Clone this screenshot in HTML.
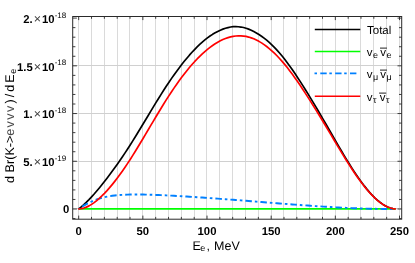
<!DOCTYPE html>
<html><head><meta charset="utf-8"><style>
html,body{margin:0;padding:0;background:#fff;}
svg{display:block;font-family:"Liberation Sans",sans-serif;text-rendering:geometricPrecision;}
.tb{font-size:11.3px;font-weight:bold;fill:#000;}
.tr{font-weight:normal;font-size:12.5px;fill:#3c3c3c;}
.sup{font-weight:normal;font-size:8px;}
.lg{font-size:11.5px;fill:#000;}
.ax{font-size:12.5px;fill:#000;}
.ay{font-size:12.6px;fill:#000;}
.sub{font-size:9px;}
</style></head><body>
<svg width="415" height="263" viewBox="0 0 415 263">
<defs><filter id="b" x="-5%" y="-5%" width="110%" height="110%"><feGaussianBlur stdDeviation="0.4"/></filter></defs>
<rect width="415" height="263" fill="#fff"/>
<g stroke="#d0d0d0" stroke-width="1" fill="none">
<line x1="78.50" y1="16.5" x2="78.50" y2="219.2" stroke="#dadada"/><line x1="91.50" y1="16.5" x2="91.50" y2="219.2" stroke="#dadada"/><line x1="104.50" y1="16.5" x2="104.50" y2="219.2" stroke="#dadada"/><line x1="117.50" y1="16.5" x2="117.50" y2="219.2" stroke="#dadada"/><line x1="129.50" y1="16.5" x2="129.50" y2="219.2" stroke="#dadada"/><line x1="142.50" y1="16.5" x2="142.50" y2="219.2" stroke="#dadada"/><line x1="155.50" y1="16.5" x2="155.50" y2="219.2" stroke="#dadada"/><line x1="168.50" y1="16.5" x2="168.50" y2="219.2" stroke="#dadada"/><line x1="181.50" y1="16.5" x2="181.50" y2="219.2" stroke="#dadada"/><line x1="194.50" y1="16.5" x2="194.50" y2="219.2" stroke="#dadada"/><line x1="206.50" y1="16.5" x2="206.50" y2="219.2" stroke="#dadada"/><line x1="219.50" y1="16.5" x2="219.50" y2="219.2" stroke="#dadada"/><line x1="232.50" y1="16.5" x2="232.50" y2="219.2" stroke="#dadada"/><line x1="245.50" y1="16.5" x2="245.50" y2="219.2" stroke="#dadada"/><line x1="258.50" y1="16.5" x2="258.50" y2="219.2" stroke="#dadada"/><line x1="271.50" y1="16.5" x2="271.50" y2="219.2" stroke="#dadada"/><line x1="283.50" y1="16.5" x2="283.50" y2="219.2" stroke="#dadada"/><line x1="296.50" y1="16.5" x2="296.50" y2="219.2" stroke="#dadada"/><line x1="309.50" y1="16.5" x2="309.50" y2="219.2" stroke="#dadada"/><line x1="322.50" y1="16.5" x2="322.50" y2="219.2" stroke="#dadada"/><line x1="335.50" y1="16.5" x2="335.50" y2="219.2" stroke="#dadada"/><line x1="348.50" y1="16.5" x2="348.50" y2="219.2" stroke="#dadada"/><line x1="360.50" y1="16.5" x2="360.50" y2="219.2" stroke="#dadada"/><line x1="373.50" y1="16.5" x2="373.50" y2="219.2" stroke="#dadada"/><line x1="386.50" y1="16.5" x2="386.50" y2="219.2" stroke="#dadada"/><line x1="399.50" y1="16.5" x2="399.50" y2="219.2" stroke="#dadada"/><line x1="72.7" y1="208.50" x2="401.7" y2="208.50"/><line x1="72.7" y1="161.50" x2="401.7" y2="161.50"/><line x1="72.7" y1="113.50" x2="401.7" y2="113.50"/><line x1="72.7" y1="65.50" x2="401.7" y2="65.50"/>
</g>
<g fill="none" stroke-width="1.7" stroke-linejoin="round" stroke-linecap="butt">
<path d="M78.70,209.00 L81.27,206.91 L83.85,204.64 L86.42,202.21 L89.00,199.62 L91.57,196.89 L94.15,194.04 L96.72,191.06 L99.30,187.99 L101.87,184.81 L104.45,181.56 L107.02,178.23 L109.60,174.83 L112.17,171.36 L114.75,167.82 L117.32,164.20 L119.90,160.50 L122.47,156.73 L125.05,152.89 L127.62,148.96 L130.19,144.96 L132.77,140.88 L135.34,136.74 L137.92,132.54 L140.49,128.30 L143.07,124.04 L145.64,119.75 L148.22,115.46 L150.79,111.18 L153.37,106.91 L155.94,102.68 L158.52,98.49 L161.09,94.36 L163.67,90.30 L166.24,86.31 L168.82,82.42 L171.39,78.64 L173.97,74.96 L176.54,71.39 L179.12,67.93 L181.69,64.58 L184.26,61.32 L186.84,58.19 L189.41,55.18 L191.99,52.30 L194.56,49.55 L197.14,46.94 L199.71,44.46 L202.29,42.13 L204.86,39.95 L207.44,37.91 L210.01,36.06 L212.59,34.35 L215.16,32.81 L217.74,31.42 L220.31,30.20 L222.89,29.15 L225.46,28.27 L228.04,27.56 L230.61,27.03 L233.18,26.69 L235.76,26.62 L238.33,26.73 L240.91,27.04 L243.48,27.53 L246.06,28.22 L248.63,29.11 L251.21,30.19 L253.78,31.47 L256.36,32.93 L258.93,34.55 L261.51,36.26 L264.08,38.14 L266.66,40.20 L269.23,42.43 L271.81,44.83 L274.38,47.39 L276.96,50.12 L279.53,53.01 L282.10,56.05 L284.68,59.25 L287.25,62.64 L289.83,66.15 L292.40,69.80 L294.98,73.55 L297.55,77.41 L300.13,81.37 L302.70,85.40 L305.28,89.51 L307.85,93.67 L310.43,97.88 L313.00,102.13 L315.58,106.43 L318.15,110.76 L320.73,115.14 L323.30,119.56 L325.88,124.01 L328.45,128.49 L331.03,132.98 L333.60,137.47 L336.17,141.94 L338.75,146.38 L341.32,150.78 L343.90,155.12 L346.47,159.39 L349.05,163.57 L351.62,167.66 L354.20,171.63 L356.77,175.48 L359.35,179.19 L361.92,182.75 L364.50,186.15 L367.07,189.36 L369.65,192.38 L372.22,195.20 L374.80,197.79 L377.37,200.15 L379.95,202.27 L382.52,204.12 L385.09,205.70 L387.67,206.99 L390.24,207.98 L392.82,208.65 L395.39,209.00" stroke="#000"/>
<path d="M78.70,208.90 L395.39,208.90" stroke="#00ff00"/>
<path d="M78.70,209.00 L81.27,207.21 L83.85,205.57 L86.42,204.08 L89.00,202.73 L91.57,201.52 L94.15,200.43 L96.72,199.46 L99.30,198.61 L101.87,197.86 L104.45,197.21 L107.02,196.65 L109.60,196.17 L112.17,195.77 L114.75,195.44 L117.32,195.18 L119.90,194.97 L122.47,194.81 L125.05,194.69 L127.62,194.60 L130.19,194.55 L132.77,194.51 L135.34,194.49 L137.92,194.49 L140.49,194.51 L143.07,194.55 L145.64,194.60 L148.22,194.66 L150.79,194.74 L153.37,194.83 L155.94,194.93 L158.52,195.03 L161.09,195.15 L163.67,195.27 L166.24,195.40 L168.82,195.54 L171.39,195.67 L173.97,195.81 L176.54,195.96 L179.12,196.10 L181.69,196.25 L184.26,196.41 L186.84,196.56 L189.41,196.72 L191.99,196.88 L194.56,197.05 L197.14,197.22 L199.71,197.39 L202.29,197.56 L204.86,197.74 L207.44,197.91 L210.01,198.09 L212.59,198.28 L215.16,198.46 L217.74,198.65 L220.31,198.83 L222.89,199.02 L225.46,199.22 L228.04,199.41 L230.61,199.60 L233.18,199.80 L235.76,200.00 L238.33,200.20 L240.91,200.40 L243.48,200.60 L246.06,200.80 L248.63,201.00 L251.21,201.21 L253.78,201.41 L256.36,201.62 L258.93,201.82 L261.51,202.03 L264.08,202.23 L266.66,202.44 L269.23,202.64 L271.81,202.85 L274.38,203.05 L276.96,203.25 L279.53,203.45 L282.10,203.66 L284.68,203.85 L287.25,204.05 L289.83,204.25 L292.40,204.44 L294.98,204.64 L297.55,204.83 L300.13,205.02 L302.70,205.20 L305.28,205.39 L307.85,205.57 L310.43,205.74 L313.00,205.92 L315.58,206.09 L318.15,206.26 L320.73,206.42 L323.30,206.59 L325.88,206.74 L328.45,206.90 L331.03,207.05 L333.60,207.19 L336.17,207.33 L338.75,207.47 L341.32,207.60 L343.90,207.73 L346.47,207.85 L349.05,207.97 L351.62,208.08 L354.20,208.18 L356.77,208.28 L359.35,208.38 L361.92,208.47 L364.50,208.55 L367.07,208.62 L369.65,208.69 L372.22,208.76 L374.80,208.81 L377.37,208.86 L379.95,208.90 L382.52,208.94 L385.09,208.97 L387.67,208.99 L390.24,209.00 L392.82,209.00 L395.39,209.00" stroke="#0080ff" stroke-width="1.9" stroke-dasharray="6.5 2.95 2.6 3.0" stroke-dashoffset="10.75"/>
<path d="M78.70,209.00 L81.27,208.70 L83.85,208.07 L86.42,207.13 L89.00,205.89 L91.57,204.38 L94.15,202.61 L96.72,200.60 L99.30,198.38 L101.87,195.96 L104.45,193.35 L107.02,190.58 L109.60,187.66 L112.17,184.59 L114.75,181.37 L117.32,178.02 L119.90,174.53 L122.47,170.93 L125.05,167.20 L127.62,163.36 L130.19,159.42 L132.77,155.38 L135.34,151.25 L137.92,147.05 L140.49,142.79 L143.07,138.49 L145.64,134.15 L148.22,129.80 L150.79,125.44 L153.37,121.08 L155.94,116.75 L158.52,112.46 L161.09,108.21 L163.67,104.02 L166.24,99.91 L168.82,95.89 L171.39,91.96 L173.97,88.14 L176.54,84.43 L179.12,80.83 L181.69,77.33 L184.26,73.96 L186.84,70.71 L189.41,67.58 L191.99,64.57 L194.56,61.70 L197.14,58.96 L199.71,56.35 L202.29,53.88 L204.86,51.56 L207.44,49.38 L210.01,47.35 L212.59,45.48 L215.16,43.76 L217.74,42.20 L220.31,40.80 L222.89,39.57 L225.46,38.50 L228.04,37.61 L230.61,36.89 L233.18,36.35 L235.76,36.00 L238.33,35.82 L240.91,35.84 L243.48,36.05 L246.06,36.45 L248.63,37.05 L251.21,37.84 L253.78,38.83 L256.36,40.00 L258.93,41.36 L261.51,42.89 L264.08,44.61 L266.66,46.50 L269.23,48.57 L271.81,50.80 L274.38,53.20 L276.96,55.76 L279.53,58.48 L282.10,61.36 L284.68,64.40 L287.25,67.58 L289.83,70.90 L292.40,74.35 L294.98,77.92 L297.55,81.59 L300.13,85.35 L302.70,89.20 L305.28,93.12 L307.85,97.10 L310.43,101.14 L313.00,105.22 L315.58,109.34 L318.15,113.50 L320.73,117.71 L323.30,121.97 L325.88,126.27 L328.45,130.59 L331.03,134.93 L333.60,139.28 L336.17,143.61 L338.75,147.91 L341.32,152.17 L343.90,156.39 L346.47,160.54 L349.05,164.60 L351.62,168.58 L354.20,172.45 L356.77,176.20 L359.35,179.82 L361.92,183.29 L364.50,186.60 L367.07,189.74 L369.65,192.69 L372.22,195.44 L374.80,197.98 L377.37,200.29 L379.95,202.36 L382.52,204.18 L385.09,205.73 L387.67,207.00 L390.24,207.98 L392.82,208.65 L395.39,209.00" stroke="#ff0000" stroke-linecap="round"/>
</g>
<g stroke="#2a2a2a" stroke-width="0.9" fill="none">
<line x1="78.70" y1="219.2" x2="78.70" y2="215.6"/><line x1="78.70" y1="16.5" x2="78.70" y2="20.1"/><line x1="91.53" y1="219.2" x2="91.53" y2="216.89999999999998"/><line x1="91.53" y1="16.5" x2="91.53" y2="18.8"/><line x1="104.36" y1="219.2" x2="104.36" y2="216.89999999999998"/><line x1="104.36" y1="16.5" x2="104.36" y2="18.8"/><line x1="117.20" y1="219.2" x2="117.20" y2="216.89999999999998"/><line x1="117.20" y1="16.5" x2="117.20" y2="18.8"/><line x1="130.03" y1="219.2" x2="130.03" y2="216.89999999999998"/><line x1="130.03" y1="16.5" x2="130.03" y2="18.8"/><line x1="142.86" y1="219.2" x2="142.86" y2="215.6"/><line x1="142.86" y1="16.5" x2="142.86" y2="20.1"/><line x1="155.69" y1="219.2" x2="155.69" y2="216.89999999999998"/><line x1="155.69" y1="16.5" x2="155.69" y2="18.8"/><line x1="168.52" y1="219.2" x2="168.52" y2="216.89999999999998"/><line x1="168.52" y1="16.5" x2="168.52" y2="18.8"/><line x1="181.36" y1="219.2" x2="181.36" y2="216.89999999999998"/><line x1="181.36" y1="16.5" x2="181.36" y2="18.8"/><line x1="194.19" y1="219.2" x2="194.19" y2="216.89999999999998"/><line x1="194.19" y1="16.5" x2="194.19" y2="18.8"/><line x1="207.02" y1="219.2" x2="207.02" y2="215.6"/><line x1="207.02" y1="16.5" x2="207.02" y2="20.1"/><line x1="219.85" y1="219.2" x2="219.85" y2="216.89999999999998"/><line x1="219.85" y1="16.5" x2="219.85" y2="18.8"/><line x1="232.68" y1="219.2" x2="232.68" y2="216.89999999999998"/><line x1="232.68" y1="16.5" x2="232.68" y2="18.8"/><line x1="245.52" y1="219.2" x2="245.52" y2="216.89999999999998"/><line x1="245.52" y1="16.5" x2="245.52" y2="18.8"/><line x1="258.35" y1="219.2" x2="258.35" y2="216.89999999999998"/><line x1="258.35" y1="16.5" x2="258.35" y2="18.8"/><line x1="271.18" y1="219.2" x2="271.18" y2="215.6"/><line x1="271.18" y1="16.5" x2="271.18" y2="20.1"/><line x1="284.01" y1="219.2" x2="284.01" y2="216.89999999999998"/><line x1="284.01" y1="16.5" x2="284.01" y2="18.8"/><line x1="296.84" y1="219.2" x2="296.84" y2="216.89999999999998"/><line x1="296.84" y1="16.5" x2="296.84" y2="18.8"/><line x1="309.68" y1="219.2" x2="309.68" y2="216.89999999999998"/><line x1="309.68" y1="16.5" x2="309.68" y2="18.8"/><line x1="322.51" y1="219.2" x2="322.51" y2="216.89999999999998"/><line x1="322.51" y1="16.5" x2="322.51" y2="18.8"/><line x1="335.34" y1="219.2" x2="335.34" y2="215.6"/><line x1="335.34" y1="16.5" x2="335.34" y2="20.1"/><line x1="348.17" y1="219.2" x2="348.17" y2="216.89999999999998"/><line x1="348.17" y1="16.5" x2="348.17" y2="18.8"/><line x1="361.00" y1="219.2" x2="361.00" y2="216.89999999999998"/><line x1="361.00" y1="16.5" x2="361.00" y2="18.8"/><line x1="373.84" y1="219.2" x2="373.84" y2="216.89999999999998"/><line x1="373.84" y1="16.5" x2="373.84" y2="18.8"/><line x1="386.67" y1="219.2" x2="386.67" y2="216.89999999999998"/><line x1="386.67" y1="16.5" x2="386.67" y2="18.8"/><line x1="399.50" y1="219.2" x2="399.50" y2="215.6"/><line x1="399.50" y1="16.5" x2="399.50" y2="20.1"/><line x1="72.7" y1="218.54" x2="75.4" y2="218.54"/><line x1="401.7" y1="218.54" x2="399.0" y2="218.54"/><line x1="72.7" y1="209.00" x2="76.9" y2="209.00"/><line x1="401.7" y1="209.00" x2="397.5" y2="209.00"/><line x1="72.7" y1="199.46" x2="75.4" y2="199.46"/><line x1="401.7" y1="199.46" x2="399.0" y2="199.46"/><line x1="72.7" y1="189.91" x2="75.4" y2="189.91"/><line x1="401.7" y1="189.91" x2="399.0" y2="189.91"/><line x1="72.7" y1="180.37" x2="75.4" y2="180.37"/><line x1="401.7" y1="180.37" x2="399.0" y2="180.37"/><line x1="72.7" y1="170.82" x2="75.4" y2="170.82"/><line x1="401.7" y1="170.82" x2="399.0" y2="170.82"/><line x1="72.7" y1="161.28" x2="76.9" y2="161.28"/><line x1="401.7" y1="161.28" x2="397.5" y2="161.28"/><line x1="72.7" y1="151.73" x2="75.4" y2="151.73"/><line x1="401.7" y1="151.73" x2="399.0" y2="151.73"/><line x1="72.7" y1="142.19" x2="75.4" y2="142.19"/><line x1="401.7" y1="142.19" x2="399.0" y2="142.19"/><line x1="72.7" y1="132.64" x2="75.4" y2="132.64"/><line x1="401.7" y1="132.64" x2="399.0" y2="132.64"/><line x1="72.7" y1="123.09" x2="75.4" y2="123.09"/><line x1="401.7" y1="123.09" x2="399.0" y2="123.09"/><line x1="72.7" y1="113.55" x2="76.9" y2="113.55"/><line x1="401.7" y1="113.55" x2="397.5" y2="113.55"/><line x1="72.7" y1="104.00" x2="75.4" y2="104.00"/><line x1="401.7" y1="104.00" x2="399.0" y2="104.00"/><line x1="72.7" y1="94.46" x2="75.4" y2="94.46"/><line x1="401.7" y1="94.46" x2="399.0" y2="94.46"/><line x1="72.7" y1="84.91" x2="75.4" y2="84.91"/><line x1="401.7" y1="84.91" x2="399.0" y2="84.91"/><line x1="72.7" y1="75.37" x2="75.4" y2="75.37"/><line x1="401.7" y1="75.37" x2="399.0" y2="75.37"/><line x1="72.7" y1="65.82" x2="76.9" y2="65.82"/><line x1="401.7" y1="65.82" x2="397.5" y2="65.82"/><line x1="72.7" y1="56.28" x2="75.4" y2="56.28"/><line x1="401.7" y1="56.28" x2="399.0" y2="56.28"/><line x1="72.7" y1="46.73" x2="75.4" y2="46.73"/><line x1="401.7" y1="46.73" x2="399.0" y2="46.73"/><line x1="72.7" y1="37.19" x2="75.4" y2="37.19"/><line x1="401.7" y1="37.19" x2="399.0" y2="37.19"/><line x1="72.7" y1="27.64" x2="75.4" y2="27.64"/><line x1="401.7" y1="27.64" x2="399.0" y2="27.64"/><line x1="72.7" y1="18.10" x2="76.9" y2="18.10"/><line x1="401.7" y1="18.10" x2="397.5" y2="18.10"/>
<rect x="72.7" y="16.5" width="329.0" height="202.7" stroke-width="1.0"/>
</g>
<g class="txt" filter="url(#b)">
<text x="78.70" y="235.2" text-anchor="middle" class="tb">0</text><text x="142.86" y="235.2" text-anchor="middle" class="tb">50</text><text x="207.02" y="235.2" text-anchor="middle" class="tb">100</text><text x="271.18" y="235.2" text-anchor="middle" class="tb">150</text><text x="335.34" y="235.2" text-anchor="middle" class="tb">200</text><text x="399.50" y="235.2" text-anchor="middle" class="tb">250</text>
<text x="66.2" y="22.90" text-anchor="end" class="tb">2.<tspan class="tr" dx="0.9">×</tspan><tspan dx="1.0">10</tspan><tspan class="sup" dy="-5.2" dx="0.1">-18</tspan></text><text x="66.2" y="70.62" text-anchor="end" class="tb">1.5<tspan class="tr" dx="0.9">×</tspan><tspan dx="1.0">10</tspan><tspan class="sup" dy="-5.2" dx="0.1">-18</tspan></text><text x="66.2" y="118.35" text-anchor="end" class="tb">1.<tspan class="tr" dx="0.9">×</tspan><tspan dx="1.0">10</tspan><tspan class="sup" dy="-5.2" dx="0.1">-18</tspan></text><text x="66.2" y="166.08" text-anchor="end" class="tb">5.<tspan class="tr" dx="0.9">×</tspan><tspan dx="1.0">10</tspan><tspan class="sup" dy="-5.2" dx="0.1">-19</tspan></text><text x="69.3" y="213.40" text-anchor="end" class="tb">0</text>
<g fill="none" stroke-width="1.5">
<line x1="314.8" y1="29.6" x2="360.3" y2="29.6" stroke="#000"/>
<line x1="314.8" y1="51.5" x2="360.3" y2="51.5" stroke="#00ff00"/>
<line x1="314.5" y1="73.4" x2="356.9" y2="73.4" stroke="#0080ff" stroke-width="1.8" stroke-dasharray="2.5 3.3 6.4 2.65"/>
<line x1="314.8" y1="96.3" x2="360.3" y2="96.3" stroke="#ff0000"/>
</g>
<text x="367.0" y="33.8" class="lg">Total</text>
<text y="55.9" class="lg"><tspan x="366.7">v</tspan><tspan class="sub" x="372.9" dy="2.4">e</tspan><tspan dy="-2.4" x="380.3">v</tspan><tspan class="sub" dy="2.4" x="386.6">e</tspan></text><line x1="380.0" y1="48.1" x2="387.0" y2="48.1" stroke="#333" stroke-width="1.1"/>
<text y="77.9" class="lg"><tspan x="366.7">v</tspan><tspan class="sub" x="372.9" dy="2.4">μ</tspan><tspan dy="-2.4" x="380.3">v</tspan><tspan class="sub" dy="2.4" x="386.6">μ</tspan></text><line x1="380.0" y1="70.10000000000001" x2="387.0" y2="70.10000000000001" stroke="#333" stroke-width="1.1"/>
<text y="100.9" class="lg"><tspan x="366.7">v</tspan><tspan class="sub" x="372.9" dy="2.4">τ</tspan><tspan dy="-2.4" x="379.7">v</tspan><tspan class="sub" dy="2.4" x="386.0">τ</tspan></text><line x1="379.1" y1="93.10000000000001" x2="386.2" y2="93.10000000000001" stroke="#333" stroke-width="1.1"/>
<text x="192.6" y="250.4" class="ax">E<tspan class="sub" dy="0.8" dx="-0.7">e</tspan><tspan dy="-0.8" dx="1.3">,</tspan><tspan dx="0.6"> MeV</tspan></text>
<text transform="translate(14.0,182.9) rotate(-90)" class="ay">d Br(K-&gt;<tspan fill="#4a4a4a">e</tspan><tspan dx="1.2" fill="#4a4a4a">v</tspan><tspan dx="1.4" fill="#4a4a4a">v</tspan><tspan dx="1.5" fill="#4a4a4a">v</tspan><tspan dx="2.2">)</tspan><tspan dx="1.9">/</tspan><tspan dx="-1.4"> d</tspan><tspan dx="-1.6"> E</tspan><tspan class="sub" dy="2" dx="0.6">e</tspan></text>
</g>
</svg>
</body></html>
